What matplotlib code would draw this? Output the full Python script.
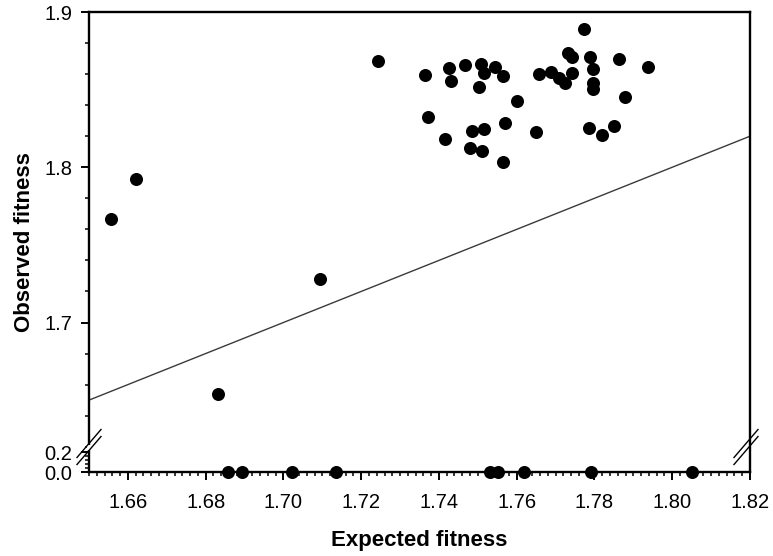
import numpy as np
import matplotlib
matplotlib.use("Agg")
import matplotlib.pyplot as plt
from matplotlib.ticker import FixedLocator, FixedFormatter

plt.rcParams['font.family'] = ['Liberation Sans', 'DejaVu Sans']

# ---- data ----
expected_pos = [1.6557, 1.6621, 1.6832, 1.7094, 1.7244, 1.7364, 1.7427, 1.7431, 1.7467,
                1.7509, 1.7516, 1.7543, 1.7566, 1.7504, 1.7602, 1.7371, 1.7569, 1.7485,
                1.7516, 1.7415, 1.7480, 1.7512, 1.7564, 1.7649, 1.7658, 1.7688, 1.7772,
                1.7733, 1.7742, 1.7789, 1.7795, 1.7862, 1.7937, 1.7708, 1.7725, 1.7742,
                1.7795, 1.7795, 1.7879, 1.7787, 1.7819, 1.7849]
observed_pos = [1.7669, 1.7922, 1.6541, 1.7280, 1.8686, 1.8594, 1.8641, 1.8557, 1.8658,
                1.8664, 1.8604, 1.8643, 1.8587, 1.8515, 1.8426, 1.8321, 1.8285, 1.8233,
                1.8244, 1.8180, 1.8122, 1.8104, 1.8035, 1.8225, 1.8601, 1.8612, 1.8893,
                1.8734, 1.8708, 1.8712, 1.8632, 1.8695, 1.8643, 1.8573, 1.8541, 1.8604,
                1.8541, 1.8502, 1.8451, 1.8250, 1.8207, 1.8265]
expected_zero = [1.6857, 1.6894, 1.7023, 1.7134, 1.7532, 1.7551, 1.7620, 1.7792, 1.8051]
observed_zero = [0.0] * len(expected_zero)

x_ticks = [1.66, 1.68, 1.70, 1.72, 1.74, 1.76, 1.78, 1.80, 1.82]
x_labels = ["1.66", "1.68", "1.70", "1.72", "1.74", "1.76", "1.78", "1.80", "1.82"]
y_ticks = [0.0, 0.2, 1.7, 1.8, 1.9]
y_labels = ["0.0", "0.2", "1.7", "1.8", "1.9"]
identity = [1.65, 1.82]

# ---- broken y scale (piecewise linear) ----
K = 100 / 1552.5        # compression of 0..0.2 segment
C = 25.3 / 1552.5       # position of 1.62
Y_LO, Y_HI = 0.2, 1.62


def fwd(y):
    y = np.asarray(y, dtype=float)
    mid = K * Y_LO + (y - Y_LO) * (C - K * Y_LO) / (Y_HI - Y_LO)
    return np.where(y <= Y_LO, y * K, np.where(y >= Y_HI, C + (y - Y_HI), mid))


def inv(v):
    v = np.asarray(v, dtype=float)
    a = K * Y_LO
    mid = Y_LO + (v - a) * (Y_HI - Y_LO) / (C - a)
    return np.where(v <= a, v / K, np.where(v >= C, Y_HI + (v - C), mid))


W, H = 773, 556
fig = plt.figure(figsize=(W / 100, H / 100), dpi=100)
L, R, T, B = 89, 750, 12, 472
ax = fig.add_axes([L / W, 1 - B / H, (R - L) / W, (B - T) / H])
ax.set_yscale('function', functions=(fwd, inv))
ax.set_xlim(1.65, 1.82)
ax.set_ylim(0.0, 1.9)

ax.plot(identity, identity, color='#3a3a3a', lw=1.0, zorder=2)
ax.scatter(expected_pos, observed_pos, s=88, color='black', zorder=3, linewidths=0)
ax.scatter(expected_zero, observed_zero, s=88, color='black', zorder=5,
           linewidths=0, clip_on=False)

# ticks
ax.xaxis.set_major_locator(FixedLocator(x_ticks))
ax.xaxis.set_major_formatter(FixedFormatter(x_labels))
ax.xaxis.set_minor_locator(FixedLocator(np.round(np.arange(1.65, 1.8201, 0.002), 4)))
ax.yaxis.set_major_locator(FixedLocator(y_ticks))
ax.yaxis.set_major_formatter(FixedFormatter(y_labels))
y_minor = list(np.round(np.arange(1.62, 1.9001, 0.02), 3)) + [0.04, 0.08, 0.12, 0.16]
ax.yaxis.set_minor_locator(FixedLocator(y_minor))

ax.tick_params(axis='both', which='major', direction='out', length=6, width=1.4,
               labelsize=14.5, colors='black')
ax.tick_params(axis='both', which='minor', direction='out', length=3, width=1.1)
ax.tick_params(axis='x', which='major', pad=9)
ax.tick_params(axis='y', which='major', pad=6)
ax.tick_params(top=False, right=False, which='both')

for s in ax.spines.values():
    s.set_linewidth(1.7)
    s.set_color('black')

ax.set_xlabel('Expected fitness', fontsize=16, fontweight='bold', labelpad=13)
ax.set_ylabel('Observed fitness', fontsize=16, fontweight='bold', labelpad=7)

# break marks on left and right spines
aw, ah = R - L, B - T
def brk(xc):
    yc = 447
    for dy in (-3.5, 3.5):
        x0, x1 = xc - 12, xc + 12
        y0, y1 = yc + dy + 14, yc + dy - 14
        ax.plot([(x0 - L) / aw, (x1 - L) / aw], [(B - y0) / ah, (B - y1) / ah],
                transform=ax.transAxes, color='black', lw=1.0, clip_on=False, zorder=6)
    # white gap in spine
    ax.plot([(xc - L) / aw, (xc - L) / aw], [(B - (yc + 2.5)) / ah, (B - (yc - 2.5)) / ah],
            transform=ax.transAxes, color='white', lw=3, clip_on=False, zorder=5.5,
            solid_capstyle='butt')

brk(L)
brk(R - 4)

fig.savefig('out.png', dpi=100)
